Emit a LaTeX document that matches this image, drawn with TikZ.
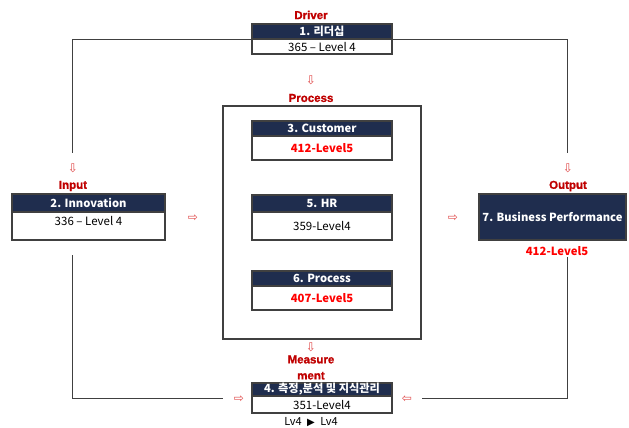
\documentclass[tikz,border=0pt]{standalone}
\usepackage{fontspec}
\setmainfont{Noto Sans CJK KR}
\newfontfamily\lblfont{Liberation Sans}[BoldFeatures={FakeBold=1.2}]
\newfontfamily\symfont{DejaVu Sans}
\definecolor{navy}{HTML}{1F2D4E}
\definecolor{dred}{HTML}{C00000}
\definecolor{bred}{HTML}{FF0000}
\definecolor{ared}{HTML}{E04848}
\definecolor{edgec}{HTML}{404040}
\tikzset{
  hdr/.style={draw=edgec, line width=1.2pt, fill=navy, text=white, font=\bfseries\fontsize{11.2}{12}\selectfont, minimum width=140, inner sep=0},
  val/.style={draw=edgec, line width=1.2pt, fill=white, font=\fontsize{11.5}{12}\selectfont, minimum width=140, inner sep=0},
  redval/.style={text=bred, font=\bfseries\fontsize{11.3}{12}\selectfont},
  lab/.style={text=dred, font=\lblfont\bfseries\fontsize{11.5}{12}\selectfont, inner sep=0},
  arr/.style={text=ared, font=\symfont\fontsize{12}{12}\selectfont, inner sep=0},
  conn/.style={draw=edgec, line width=0.9pt},
  bigbox/.style={draw=edgec, line width=1.2pt, inner sep=0}
}
\begin{document}
\begin{tikzpicture}[x=1pt,y=-1pt]
\useasboundingbox[fill=white] (0,0) rectangle (629,428);
% process frame
\node[bigbox, minimum width=198, minimum height=233] (proc) at (322,222.5) {};
% box 1
\node[lab] (ldrv) at (311,15) {Driver};
\node[hdr, minimum height=15] (b1h) at (322,31.5) {1. 리더십};
\node[val, minimum height=15] (b1v) at (322,46.5) {365 – Level 4};
% box 2
\node[lab] (lin) at (73,186) {Input};
\node[hdr, minimum width=153, minimum height=18] (b2h) at (88.5,203) {2. Innovation};
\node[val, minimum width=153, minimum height=28] (b2v) at (88.5,226) {};
\node[font=\fontsize{11.5}{12}\selectfont, inner sep=0] (b2t) at (88.5,220.5) {336 – Level 4};
% box 7
\node[lab] (lout) at (568,186) {Output};
\node[hdr, minimum width=147, minimum height=46] (b7) at (552.5,217) {7. Business Performance};
\node[redval, inner sep=0] (b7v) at (557,251) {412-Level5};
% process label
\node[lab] (lproc) at (311,98) {Process};
% box 3
\node[hdr, minimum height=15] (b3h) at (322,128.5) {3. Customer};
\node[val, redval, minimum height=24] (b3v) at (322,148) {412-Level5};
% box 5
\node[hdr, minimum height=17] (b5h) at (322,203.5) {5. HR};
\node[val, minimum height=28] (b5v) at (322,226) {359-Level4};
% box 6
\node[hdr, minimum height=15] (b6h) at (322,278.5) {6. Process};
\node[val, redval, minimum height=24] (b6v) at (322,298) {407-Level5};
% box 4
\node[lab, align=center, font=\lblfont\bfseries\fontsize{11.5}{16}\selectfont] (lmeas) at (311,367.5) {Measure\\ment};
\node[hdr, minimum height=13] (b4h) at (322,389.5) {4. 측정,분석 및 지식관리};
\node[val, minimum height=17] (b4v) at (322,404.5) {351-Level4};
\node[font=\fontsize{11}{12}\selectfont, inner sep=0] (lv) at (311,422.5) {Lv4\enspace{\symfont\fontsize{10}{10}\selectfont ▶}\enspace Lv4};
% arrows
\node[arr] (a1) at (311,80) {⇩};
\node[arr] (ain) at (73,168) {⇩};
\node[arr] (aout) at (568,168) {⇩};
\node[arr] (ar1) at (193,218) {⇨};
\node[arr] (ar2) at (453,218) {⇨};
\node[arr] (am) at (311,347) {⇩};
\node[arr] (abl) at (239,399) {⇨};
\node[arr] (abr) at (407,399) {⇦};
% connectors
\coordinate (cL) at (72,153);
\coordinate (cR) at (567,153);
\coordinate (cBL) at (72,255);
\coordinate (cBR) at (567,257);
\draw[conn] (b1h.south west) -| (cL);
\draw[conn] (b1h.south east) -| (cR);
\draw[conn] (cBL) |- (223,398.5);
\draw[conn] (cBR) |- (422,398.5);
\end{tikzpicture}
\end{document}
